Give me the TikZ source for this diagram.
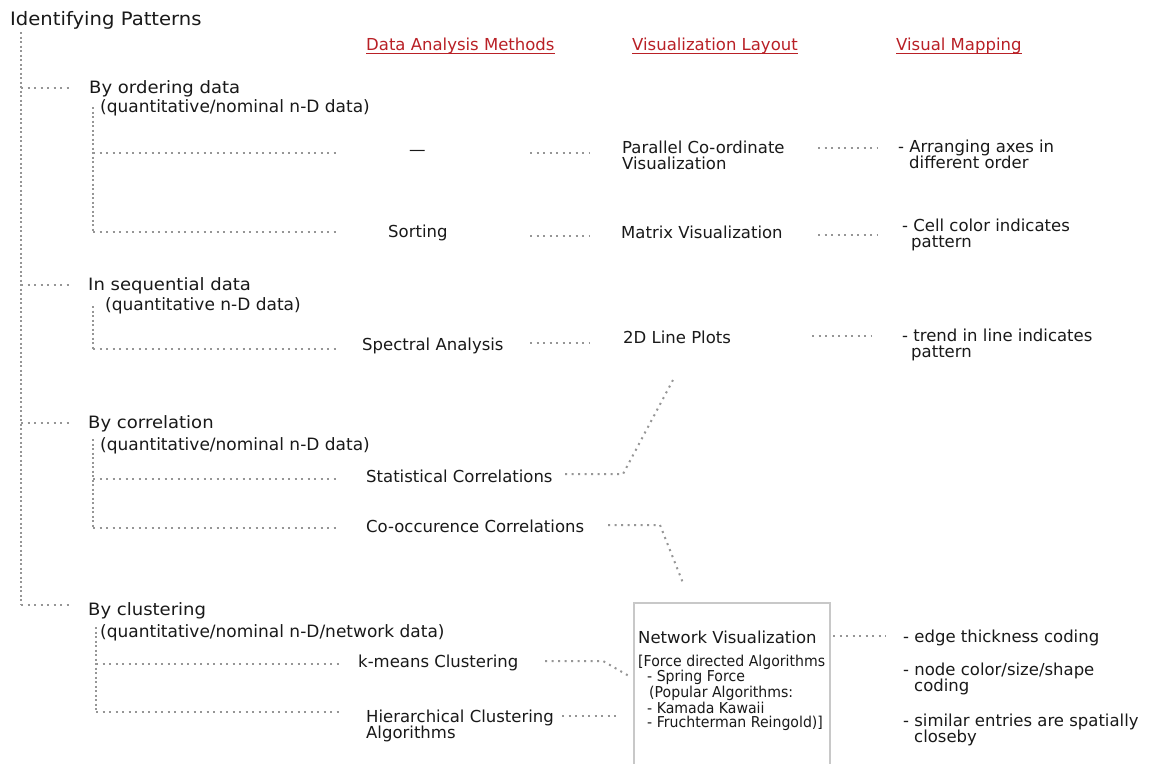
\documentclass[tikz,border=0pt]{standalone}
\usepackage{fontspec}
\setmainfont{DejaVu Sans}
\newfontfamily\widefont{DejaVu Sans}[FakeStretch=1.06]
\newfontfamily\narrowfont{DejaVu Sans}[FakeStretch=0.94]
\usetikzlibrary{calc}

\definecolor{headred}{RGB}{185,32,38}
\definecolor{dotgray}{RGB}{150,150,150}
\definecolor{boxgray}{RGB}{200,200,200}
\definecolor{ink}{RGB}{25,25,25}

% multi-line nodes are placed by the baseline of their last line
\tikzset{
  txt/.style={inner sep=0pt, anchor=base west, text=ink, align=left,
              font=\fontsize{16.5}{16}\selectfont},
  titletxt/.style={txt, font=\widefont\fontsize{18.5}{20}\selectfont},
  cattxt/.style={txt, font=\widefont\fontsize{17}{18}\selectfont},
  subtxt/.style={txt, font=\fontsize{17}{18}\selectfont},
  headtxt/.style={txt, text=headred},
  boxtxt/.style={txt, font=\narrowfont\fontsize{15}{14}\selectfont},
  dots/.style={dotgray, line width=2pt, dash pattern=on 2pt off 4.5pt},
  vdots/.style={dotgray, line width=2pt, dash pattern=on 2pt off 2.5pt},
  netframe/.style={draw=boxgray, line width=2pt, inner sep=0pt,
                   minimum width=196pt, minimum height=190pt, anchor=north west}
}

\begin{document}
\begin{tikzpicture}[x=1pt, y=-1pt]
  \fill[white] (0,0) rectangle (1156,763);
  \useasboundingbox (0,0) rectangle (1156,763);

  % root and column headers
  \node[titletxt] (root) at (10,25) {Identifying Patterns};
  \node[headtxt] (hdam) at (366,50) {Data Analysis Methods};
  \node[headtxt] (hvl)  at (632,50) {Visualization Layout};
  \node[headtxt] (hvm)  at (896,50) {Visual Mapping};
  \foreach \h in {hdam,hvl,hvm}
    \draw[headred, line width=1.3pt]
      ($(\h.base west)+(0,3.5)$) -- ($(\h.base east)+(0,3.5)$);

  % pattern categories
  \node[cattxt] (c1) at (89,93)  {By ordering data};
  \node[subtxt] (s1) at (100,112) {(quantitative/nominal n-D data)};
  \node[cattxt] (c2) at (88,290) {In sequential data};
  \node[subtxt] (s2) at (105,310) {(quantitative n-D data)};
  \node[cattxt] (c3) at (88,428) {By correlation};
  \node[subtxt] (s3) at (100,450) {(quantitative/nominal n-D data)};
  \node[cattxt] (c4) at (88,615) {By clustering};
  \node[subtxt] (s4) at (100,637) {(quantitative/nominal n-D/network data)};

  % data analysis methods
  \node[txt] (m1) at (409,155) {—};
  \node[txt] (m2) at (388,237) {Sorting};
  \node[txt] (m3) at (362,350) {Spectral Analysis};
  \node[txt] (m4) at (366,482) {Statistical Correlations};
  \node[txt] (m5) at (366,532) {Co-occurence Correlations};
  \node[txt] (m6) at (358,667) {k-means Clustering};
  \node[txt] (m7) at (366,738) {Hierarchical Clustering\\Algorithms};

  % visualization layouts
  \node[txt] (l1) at (622,169) {Parallel Co-ordinate\\Visualization};
  \node[txt] (l2) at (621,238) {Matrix Visualization};
  \node[txt] (l3) at (623,343) {2D Line Plots};
  \node[netframe] (netbox) at (633,602) {};
  \node[txt] (l4) at (638,643) {Network Visualization};
  \node[boxtxt] (alg) at (638,727)
    {[Force directed Algorithms\\
     \hspace*{9pt}- Spring Force\\
     \hspace*{11pt}(Popular Algorithms:\\
     \hspace*{9pt}- Kamada Kawaii\\
     \hspace*{9pt}- Fruchterman Reingold)]};

  % visual mappings
  \node[txt] (v1) at (898,168) {- Arranging axes in\\\hspace*{11pt}different order};
  \node[txt] (v2) at (902,247) {- Cell color indicates\\\hspace*{9pt}pattern};
  \node[txt] (v3) at (902,357) {- trend in line indicates\\\hspace*{9pt}pattern};
  \node[txt] (v4) at (903,642) {- edge thickness coding};
  \node[txt] (v5) at (903,691) {- node color/size/shape\\\hspace*{11pt}coding};
  \node[txt] (v6) at (903,742) {- similar entries are spatially\\\hspace*{11pt}closeby};

  % main trunk of the tree
  \coordinate (t0) at (21,32);
  \coordinate (t4) at (21,605);
  \draw[vdots] (t0) -- (t4);
  \foreach \c in {c1,c2,c3} \draw[dots] (t0 |- \c.west) -- ([xshift=-19pt]\c.west);
  \draw[dots] (t4) -- ([xshift=-19pt]t4 -| c4.west);

  % sub-branches to the analysis methods
  \coordinate (a1) at (93,107);  \coordinate (a1m) at (93,153);  \coordinate (a1s) at (93,232);
  \coordinate (e1m) at (337,153); \coordinate (e1s) at (337,232);
  \draw[vdots] (a1) -- (a1s);
  \draw[dots] (a1m) -- (e1m);
  \draw[dots] (a1s) -- (e1s);

  \coordinate (a2) at (93,306);  \coordinate (a2s) at (93,349); \coordinate (e2s) at (337,349);
  \draw[vdots] (a2) -- (a2s);
  \draw[dots] (a2s) -- (e2s);

  \coordinate (a3) at (93,439);  \coordinate (a3m) at (93,479); \coordinate (a3s) at (93,528);
  \coordinate (e3m) at (337,479); \coordinate (e3s) at (337,528);
  \draw[vdots] (a3) -- (a3s);
  \draw[dots] (a3m) -- (e3m);
  \draw[dots] (a3s) -- (e3s);

  \coordinate (a4) at (96,627);  \coordinate (a4m) at (96,664); \coordinate (a4s) at (96,712);
  \coordinate (e4m) at (339,664); \coordinate (e4s) at (339,712);
  \draw[vdots] (a4) -- (a4s);
  \draw[dots] (a4m) -- (e4m);
  \draw[dots] (a4s) -- (e4s);

  % methods to layouts
  \coordinate (p1a) at (530,153); \coordinate (p1b) at (590,153);
  \coordinate (p2a) at (530,236); \coordinate (p2b) at (590,236);
  \coordinate (p3a) at (530,343); \coordinate (p3b) at (589,343);
  \draw[dots] (p1a) -- (p1b);
  \draw[dots] (p2a) -- (p2b);
  \draw[dots] (p3a) -- (p3b);

  \coordinate (p4a) at (565,474); \coordinate (p4k) at (623,474); \coordinate (p4b) at (673,380);
  \draw[dots] (p4a) -- (p4k) -- (p4b);
  \coordinate (p5a) at (608,525); \coordinate (p5k) at (660,525); \coordinate (p5b) at (683,583);
  \draw[dots] (p5a) -- (p5k) -- (p5b);
  \coordinate (p6a) at (545,661); \coordinate (p6k) at (603,661); \coordinate (p6b) at (629,676);
  \draw[dots] (p6a) -- (p6k) -- (p6b);
  \coordinate (p7a) at (562,716); \coordinate (p7b) at (620,716);
  \draw[dots] (p7a) -- (p7b);

  % layouts to visual mappings
  \coordinate (q1a) at (818,148); \coordinate (q1b) at (878,148);
  \coordinate (q2a) at (818,235); \coordinate (q2b) at (878,235);
  \coordinate (q3a) at (812,336); \coordinate (q3b) at (871,336);
  \coordinate (q4a) at (833,636); \coordinate (q4b) at (886,636);
  \draw[dots] (q1a) -- (q1b);
  \draw[dots] (q2a) -- (q2b);
  \draw[dots] (q3a) -- (q3b);
  \draw[dots] (q4a) -- (q4b);
\end{tikzpicture}
\end{document}
